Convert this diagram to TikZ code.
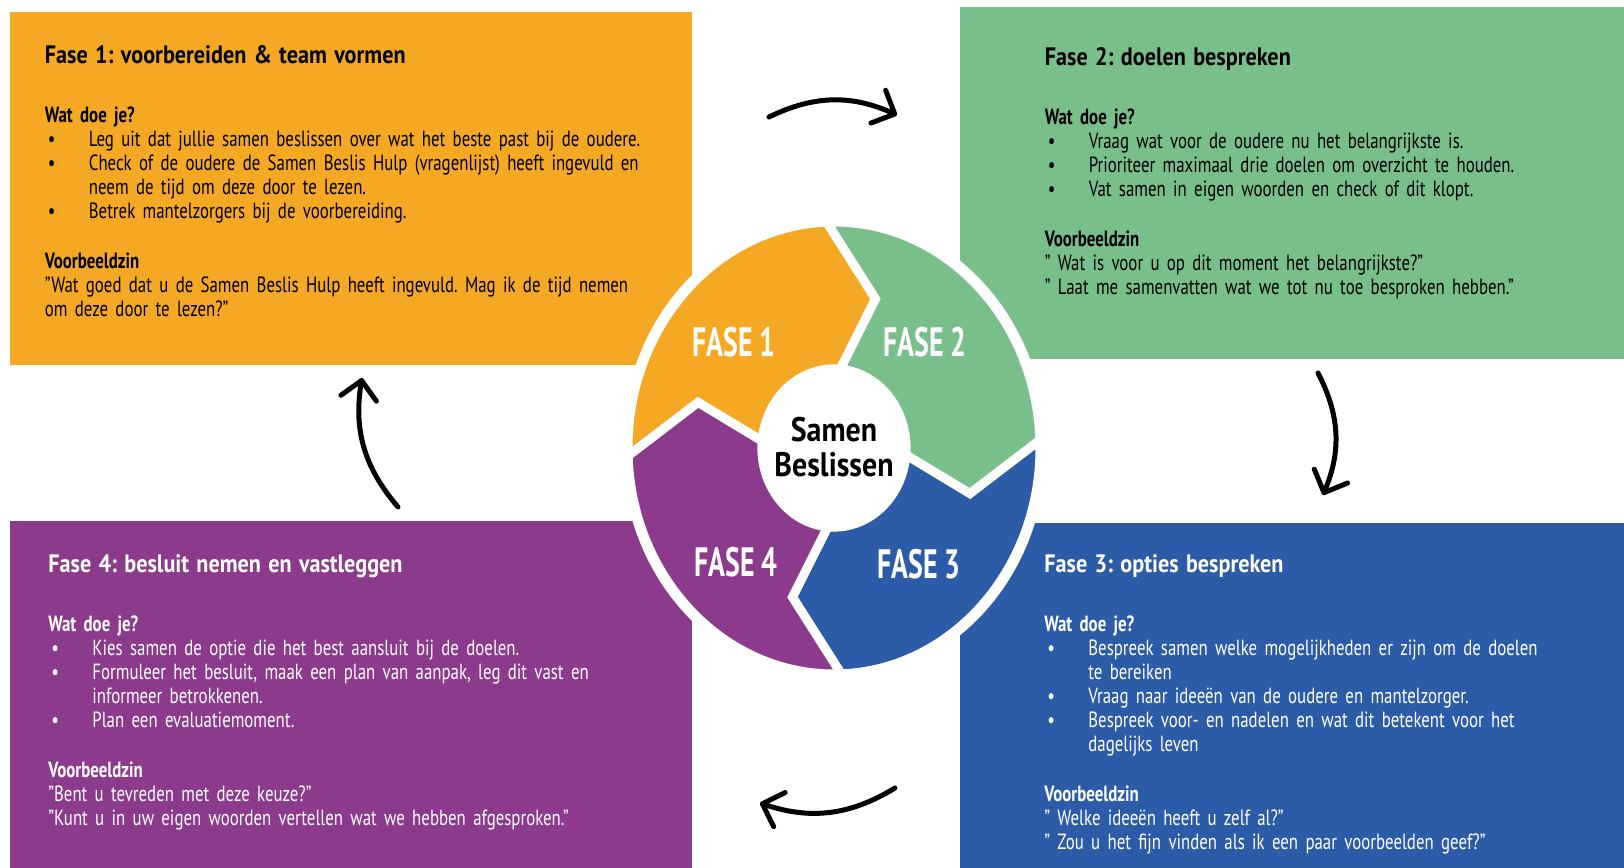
\documentclass[tikz,border=0pt]{standalone}
\usepackage{fontspec}
\setmainfont{PT Sans}[FakeStretch=0.765]
\newfontfamily\fasefont{PT Sans}[FakeStretch=0.68]
\newfontfamily\middenfont{PT Sans}[FakeStretch=0.88]
\usetikzlibrary{arrows.meta}

\definecolor{oranje}{RGB}{245,168,36}
\definecolor{groen}{RGB}{120,191,140}
\definecolor{blauw}{RGB}{44,92,167}
\definecolor{paars}{RGB}{140,58,140}

\newcommand{\kop}[1]{{\middenfont\fontsize{12.6}{12}\selectfont\bfseries #1\par}\vspace{17.5pt}}
\newcommand{\punt}{\par\hangindent=22pt\hangafter=1\hspace*{1.5pt}\makebox[20.5pt][l]{\textbullet}}
\newcommand{\voorbeeld}{\par\vspace{13pt}\textbf{Voorbeeldzin}\par}
\frenchspacing

\begin{document}
\begin{tikzpicture}[x=0.5pt,y=-0.5pt,>={Straight Barb[length=9pt,width=18pt,round]}]
  \tikzstyle{tekst}=[anchor=base west,text width=320pt,inner sep=0pt,
    font=\fontsize{11}{12}\selectfont]
  \tikzstyle{fase}=[text=white,font=\fasefont\bfseries\fontsize{20.5}{20}\selectfont]
  \tikzstyle{segment}=[draw=white,line width=4.5pt]
  \tikzstyle{pijl}=[->,line width=2.5pt,line cap=round]

  \useasboundingbox (0,0) rectangle (1624,868);

  % de vier vlakken
  \fill[oranje] (10,12) rectangle (692,365);
  \fill[groen] (960,7) rectangle (1624,359);
  \fill[paars] (10,521) rectangle (692,868);
  \fill[blauw] (960,523) rectangle (1624,868);

  \node[tekst] (tekst1) at (44.5,63) {\kop{Fase 1: voorbereiden \& team vormen}
    \textbf{Wat doe je?}
    \punt Leg uit dat jullie samen beslissen over wat het beste past bij de oudere.
    \punt Check of de oudere de Samen Beslis Hulp (vragenlijst) heeft ingevuld en\newline neem de tijd om deze door te lezen.
    \punt Betrek mantelzorgers bij de voorbereiding.
    \voorbeeld
    "Wat goed dat u de Samen Beslis Hulp heeft ingevuld. Mag ik de tijd nemen\newline om deze door te lezen?"};

  \node[tekst] (tekst2) at (1044.5,65) {\kop{Fase 2: doelen bespreken}
    \textbf{Wat doe je?}
    \punt Vraag wat voor de oudere nu het belangrijkste is.
    \punt Prioriteer maximaal drie doelen om overzicht te houden.
    \punt Vat samen in eigen woorden en check of dit klopt.
    \voorbeeld
    " Wat is voor u op dit moment het belangrijkste?"\par
    " Laat me samenvatten wat we tot nu toe besproken hebben."};

  \node[tekst,text=white] (tekst3) at (1044,572) {\kop{Fase 3: opties bespreken}
    \textbf{Wat doe je?}
    \punt Bespreek samen welke mogelijkheden er zijn om de doelen\newline te bereiken
    \punt Vraag naar ideeën van de oudere en mantelzorger.
    \punt Bespreek voor- en nadelen en wat dit betekent voor het\newline dagelijks leven
    \voorbeeld
    " Welke ideeën heeft u zelf al?"\par
    " Zou u het fijn vinden als ik een paar voorbeelden geef?"};

  \node[tekst,text=white] (tekst4) at (48,572) {\kop{Fase 4: besluit nemen en vastleggen}
    \textbf{Wat doe je?}
    \punt Kies samen de optie die het best aansluit bij de doelen.
    \punt Formuleer het besluit, maak een plan van aanpak, leg dit vast en\newline informeer betrokkenen.
    \punt Plan een evaluatiemoment.
    \voorbeeld
    "Bent u tevreden met deze keuze?"\par
    "Kunt u in uw eigen woorden vertellen wat we hebben afgesproken."};

  % het wiel
  \begin{scope}[shift={(834,448)},x=103pt,y=113pt]
    \fill[white] (0,0) circle (1.03);
    \filldraw[segment,fill=oranje] (182:1) arc[start angle=182,end angle=92,radius=1]
      -- (73:0.69) -- (85:0.35) arc[start angle=85,end angle=175,radius=0.35] -- (163:0.69) -- cycle;
    \filldraw[segment,fill=groen] (92:1) arc[start angle=92,end angle=2,radius=1]
      -- (-17:0.69) -- (-5:0.35) arc[start angle=-5,end angle=85,radius=0.35] -- (73:0.69) -- cycle;
    \filldraw[segment,fill=blauw] (2:1) arc[start angle=2,end angle=-88,radius=1]
      -- (-107:0.69) -- (-95:0.35) arc[start angle=-95,end angle=-5,radius=0.35] -- (-17:0.69) -- cycle;
    \filldraw[segment,fill=paars] (-88:1) arc[start angle=-88,end angle=-178,radius=1]
      -- (163:0.69) -- (175:0.35) arc[start angle=175,end angle=265,radius=0.35] -- (-107:0.69) -- cycle;
  \end{scope}

  \node[fase] (fase1) at (734,342) {FASE 1};
  \node[fase] (fase2) at (925,342) {FASE 2};
  \node[fase] (fase3) at (919,564) {FASE 3};
  \node[fase] (fase4) at (736,562) {FASE 4};
  \node[align=center,font=\middenfont\bfseries\fontsize{17}{17.5}\selectfont]
    (midden) at (834,447) {Samen\\Beslissen};

  % pijlen tussen de vlakken
  \coordinate (p1) at (769,117);  \coordinate (p2) at (897,115);
  \coordinate (p3) at (1318,373); \coordinate (p4) at (1323,495);
  \coordinate (p5) at (895,788);  \coordinate (p6) at (760,803);
  \coordinate (p7) at (398,507);  \coordinate (p8) at (362,378);
  \draw[pijl] (p1) to[bend left=25] (p2);
  \draw[pijl] (p3) to[bend left=25] (p4);
  \draw[pijl] (p5) to[bend left=25] (p6);
  \draw[pijl] (p7) to[bend left=25] (p8);
\end{tikzpicture}
\end{document}
